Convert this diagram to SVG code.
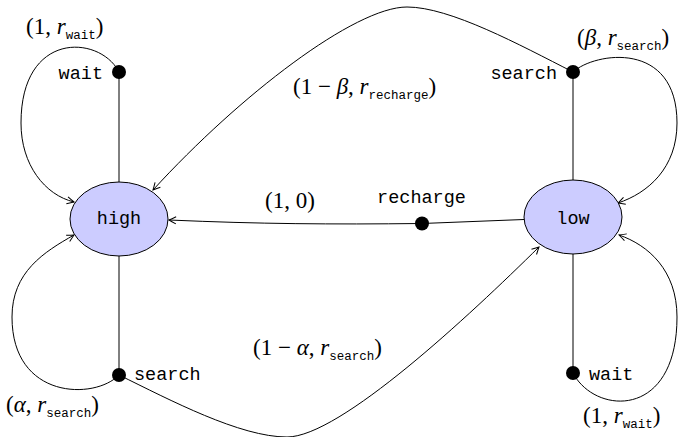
<svg xmlns="http://www.w3.org/2000/svg" width="681" height="437" viewBox="0 0 681 437">
  <style>
    .state { fill: #ccccff; stroke: #000; stroke-width: 1; }
    .act { fill: #000; }
    .edge { fill: none; stroke: #000; stroke-width: 1; }
    .tt { font-family: "Liberation Mono", "DejaVu Sans Mono", monospace; font-size: 18.5px; fill: #000; }
    .m { font-family: "Liberation Serif", "DejaVu Serif", serif; font-size: 23px; fill: #000; }
    .i { font-style: italic; }
    .sub { font-family: "Liberation Mono", "DejaVu Sans Mono", monospace; font-size: 12.5px; }
  </style>
  <defs>
    <marker id="tip" viewBox="-10 -6 12 12" markerWidth="12" markerHeight="12" refX="0" refY="0" orient="auto" markerUnits="userSpaceOnUse" overflow="visible">
      <path d="M -7,-3.6 Q -2.5,-1.2 0,0 Q -2.5,1.2 -7,3.6" fill="none" stroke="#000" stroke-width="1"/>
    </marker>
  </defs>

  <!-- transitions -->
  <g id="connectors">
    <!-- high side: choice lines -->
    <path class="edge" d="M119,72 L119,182"/>
    <path class="edge" d="M119,256 L119,375"/>
    <!-- low side: choice lines -->
    <path class="edge" d="M573,72 L573,180"/>
    <path class="edge" d="M573,254 L573,373"/>
    <!-- recharge: low -> high -->
    <path class="edge" d="M524,219.5 L422,223.5"/>
    <path class="edge" d="M422,223.5 C330,224.5 260,224 169,220" marker-end="url(#tip)"/>
    <!-- wait (high) self-loop -->
    <path class="edge" d="M119,72 C100,35 21,30 21,123 C21,165 45,195 74,202" marker-end="url(#tip)"/>
    <!-- search (high) self-loop -->
    <path class="edge" d="M119,375 C95,400 12,400 12,317 C12,272 44,252 74,235" marker-end="url(#tip)"/>
    <!-- search (high) -> low -->
    <path class="edge" d="M119,375 C170,400 240,437 287,437 C340,437 470,315 539,247" marker-end="url(#tip)"/>
    <!-- search (low) self-loop -->
    <path class="edge" d="M573,72 C595,52 677,40 677,123 C677,168 648,193 618,203" marker-end="url(#tip)"/>
    <!-- search (low) -> high -->
    <path class="edge" d="M573,72 C520,45 450,7 407,7 C355,7 240,95 153,190" marker-end="url(#tip)"/>
    <!-- wait (low) self-loop -->
    <path class="edge" d="M573,373 C595,415 677,420 677,317 C677,270 648,245 619,235" marker-end="url(#tip)"/>
  </g>

  <!-- states -->
  <g id="high">
    <ellipse class="state" cx="119" cy="219" rx="49" ry="37"/>
    <text class="tt" x="119" y="224" text-anchor="middle">high</text>
  </g>
  <g id="low">
    <ellipse class="state" cx="573" cy="217" rx="49" ry="37"/>
    <text class="tt" x="573" y="224" text-anchor="middle">low</text>
  </g>

  <!-- action points -->
  <g id="high-wait">
    <circle class="act" cx="119" cy="72" r="7"/>
    <text class="tt" x="103" y="79" text-anchor="end">wait</text>
  </g>
  <g id="high-search">
    <circle class="act" cx="119" cy="375" r="7"/>
    <text class="tt" x="134" y="380">search</text>
  </g>
  <g id="low-search">
    <circle class="act" cx="573" cy="72" r="7"/>
    <text class="tt" x="557" y="78.5" text-anchor="end">search</text>
  </g>
  <g id="low-wait">
    <circle class="act" cx="573" cy="373" r="7"/>
    <text class="tt" x="589" y="379.5">wait</text>
  </g>
  <g id="low-recharge">
    <circle class="act" cx="422" cy="223.5" r="7"/>
    <text class="tt" x="421.5" y="203" text-anchor="middle">recharge</text>
  </g>

  <!-- transition labels (probability, reward) -->
  <g id="labels">
    <text class="m" x="26" y="33.5">(1, <tspan class="i">r</tspan><tspan class="sub" dy="5">wait</tspan><tspan dy="-5">)</tspan></text>
    <text class="m" x="577" y="45">(<tspan class="i">β</tspan>, <tspan class="i">r</tspan><tspan class="sub" dy="5">search</tspan><tspan dy="-5">)</tspan></text>
    <text class="m" x="293" y="93.5">(1 − <tspan class="i">β</tspan>, <tspan class="i">r</tspan><tspan class="sub" dy="5">recharge</tspan><tspan dy="-5">)</tspan></text>
    <text class="m" x="265" y="208">(1, 0)</text>
    <text class="m" x="253" y="355">(1 − <tspan class="i">α</tspan>, <tspan class="i">r</tspan><tspan class="sub" dy="5">search</tspan><tspan dy="-5">)</tspan></text>
    <text class="m" x="6" y="412">(<tspan class="i">α</tspan>, <tspan class="i">r</tspan><tspan class="sub" dy="5">search</tspan><tspan dy="-5">)</tspan></text>
    <text class="m" x="583" y="423">(1, <tspan class="i">r</tspan><tspan class="sub" dy="5">wait</tspan><tspan dy="-5">)</tspan></text>
  </g>
</svg>
